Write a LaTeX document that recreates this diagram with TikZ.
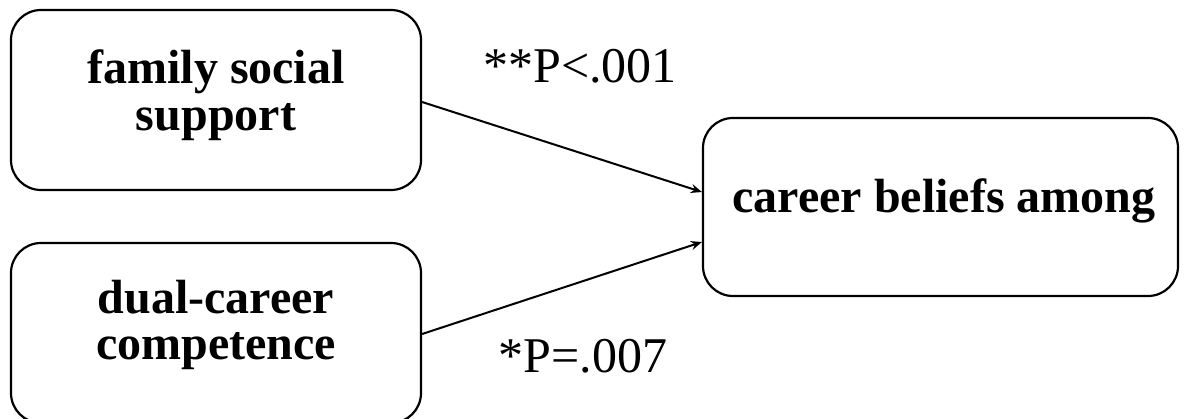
\documentclass[tikz,border=0pt]{standalone}
\usepackage{fontspec}
\setmainfont{Liberation Serif}
\usetikzlibrary{arrows.meta}
\begin{document}
\begin{tikzpicture}[x=1pt,y=-1pt,
  factor/.style={draw=black, line width=2.2pt, rounded corners=30pt, inner sep=0pt},
  factortext/.style={inner sep=0pt, align=center, font=\fontsize{48}{46.5}\selectfont\bfseries},
  link/.style={draw=black, line width=2pt, -{Stealth[length=11pt,width=9pt]}},
  plabel/.style={font=\fontsize{50}{52}\selectfont, inner sep=0pt, anchor=base}]
\useasboundingbox (0,0) rectangle (1187,418);
% boxes
\node[factor, minimum width=410pt, minimum height=180pt] (fs) at (216,100) {};
\node[factor, minimum width=410pt, minimum height=180pt] (dc) at (216,333) {};
\node[factor, minimum width=475pt, minimum height=178pt] (cb) at (940.5,207) {};
% box texts
\node[factortext] (fst) at (216,95) {family social\\support};
\node[factortext] (dct) at (216,325) {dual-career\\competence};
\node[factortext, anchor=base] (cbt) at (944,212) {career beliefs among};
% paths
\draw[link] ([yshift=-2pt]fs.east) -- ([yshift=15pt]cb.west);
\draw[link] ([yshift=-1pt]dc.east) -- ([yshift=-35pt]cb.west);
% significance labels
\node[plabel] (p1) at (580,82) {**P<.001};
\node[plabel] (p2) at (583,372) {*P=.007};
\end{tikzpicture}
\end{document}
